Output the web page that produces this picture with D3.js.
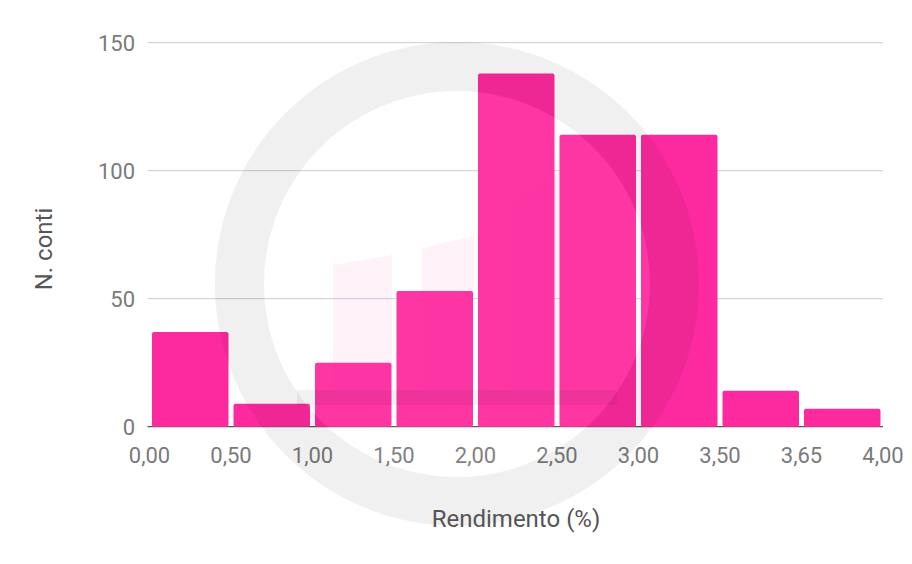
<!DOCTYPE html>
<html>
<head>
<meta charset="utf-8">
<script src="https://cdn.jsdelivr.net/npm/d3@7"></script>
<style>
  html, body { margin: 0; padding: 0; background: #fff; }
  svg { display: block; font-family: Roboto, "Noto Sans", sans-serif; }
</style>
</head>
<body>
<svg id="chart" width="912" height="564"></svg>
<script>
// ---- data ----
const binEdgeLabels = ["0,00", "0,50", "1,00", "1,50", "2,00", "2,50", "3,00", "3,50", "3,65", "4,00"];
const counts = [37, 9, 25, 53, 138, 114, 114, 14, 7];
const yTicks = [0, 50, 100, 150];
const xTitle = "Rendimento (%)";
const yTitle = "N. conti";

// ---- layout ----
const plotLeft = 149.5, plotRight = 883, plotTop = 42.7, plotBottom = 426.7;
const svg = d3.select("#chart");

const x = d3.scaleLinear().domain([0, binEdgeLabels.length - 1]).range([plotLeft, plotRight]);
const y = d3.scaleLinear().domain([0, 150]).range([plotBottom, plotTop]);

// gridlines
svg.append("g").selectAll("line")
  .data(yTicks.filter(d => d > 0))
  .join("line")
  .attr("x1", plotLeft - 2).attr("x2", plotRight)
  .attr("y1", d => y(d)).attr("y2", d => y(d))
  .attr("stroke", "#cccccc").attr("stroke-width", 1);

// baseline (dark, visible in gaps between bars)
svg.append("line")
  .attr("x1", plotLeft - 2).attr("x2", plotRight)
  .attr("y1", y(0)).attr("y2", y(0))
  .attr("stroke", "#555").attr("stroke-width", 1.3);

// y tick labels
svg.append("g").selectAll("text")
  .data(yTicks)
  .join("text")
  .attr("x", 135).attr("y", d => y(d))
  .attr("dy", "0.36em")
  .attr("text-anchor", "end")
  .attr("font-size", 22)
  .attr("fill", "#7a7a7a")
  .text(d => d);

// x tick labels
svg.append("g").selectAll("text")
  .data(binEdgeLabels)
  .join("text")
  .attr("x", (d, i) => x(i)).attr("y", 463)
  .attr("text-anchor", "middle")
  .attr("font-size", 22)
  .attr("fill", "#7a7a7a")
  .text(d => d);

// bars
const gap = 2.5;
svg.append("g").selectAll("rect")
  .data(counts)
  .join("rect")
  .attr("x", (d, i) => x(i) + gap)
  .attr("width", (d, i) => x(i + 1) - x(i) - 2 * gap)
  .attr("y", d => y(d))
  .attr("height", d => y(0) - y(d))
  .attr("rx", 2).attr("ry", 2)
  .attr("fill", "#fd2a9f");

// ---- watermark (decorative) ----
const cx = 457, cy = 284, rOut = 242, rIn = 193;
const wm = svg.append("g").attr("pointer-events", "none");
wm.append("circle").attr("cx", cx).attr("cy", cy).attr("r", rIn)
  .attr("fill", "#ffffff").attr("opacity", 0.06);
const ring = d3.arc().innerRadius(rIn).outerRadius(rOut).startAngle(0).endAngle(2 * Math.PI);
wm.append("path").attr("transform", `translate(${cx},${cy})`)
  .attr("d", ring()).attr("fill", "#000").attr("opacity", 0.06);
const logo = [
  [[333, 265], [392, 255], [392, 390], [333, 390]],
  [[422, 248], [474, 236], [474, 390], [422, 390]],
  [[510, 202], [562, 170], [562, 390], [510, 390]]
];
wm.selectAll("path.logo").data(logo).join("path")
  .attr("class", "logo")
  .attr("d", d => "M" + d.map(p => p.join(",")).join("L") + "Z")
  .attr("fill", "#fd2a9f").attr("opacity", 0.06);
wm.append("rect").attr("x", 297).attr("y", 390).attr("width", 320).attr("height", 15)
  .attr("fill", "#000").attr("opacity", 0.05);

// axis titles
svg.append("text")
  .attr("x", 516).attr("y", 527)
  .attr("text-anchor", "middle")
  .attr("font-size", 24)
  .attr("fill", "#555")
  .text(xTitle);

svg.append("text")
  .attr("transform", "translate(52,249) rotate(-90)")
  .attr("text-anchor", "middle")
  .attr("font-size", 24)
  .attr("fill", "#555")
  .text(yTitle);
</script>
</body>
</html>
